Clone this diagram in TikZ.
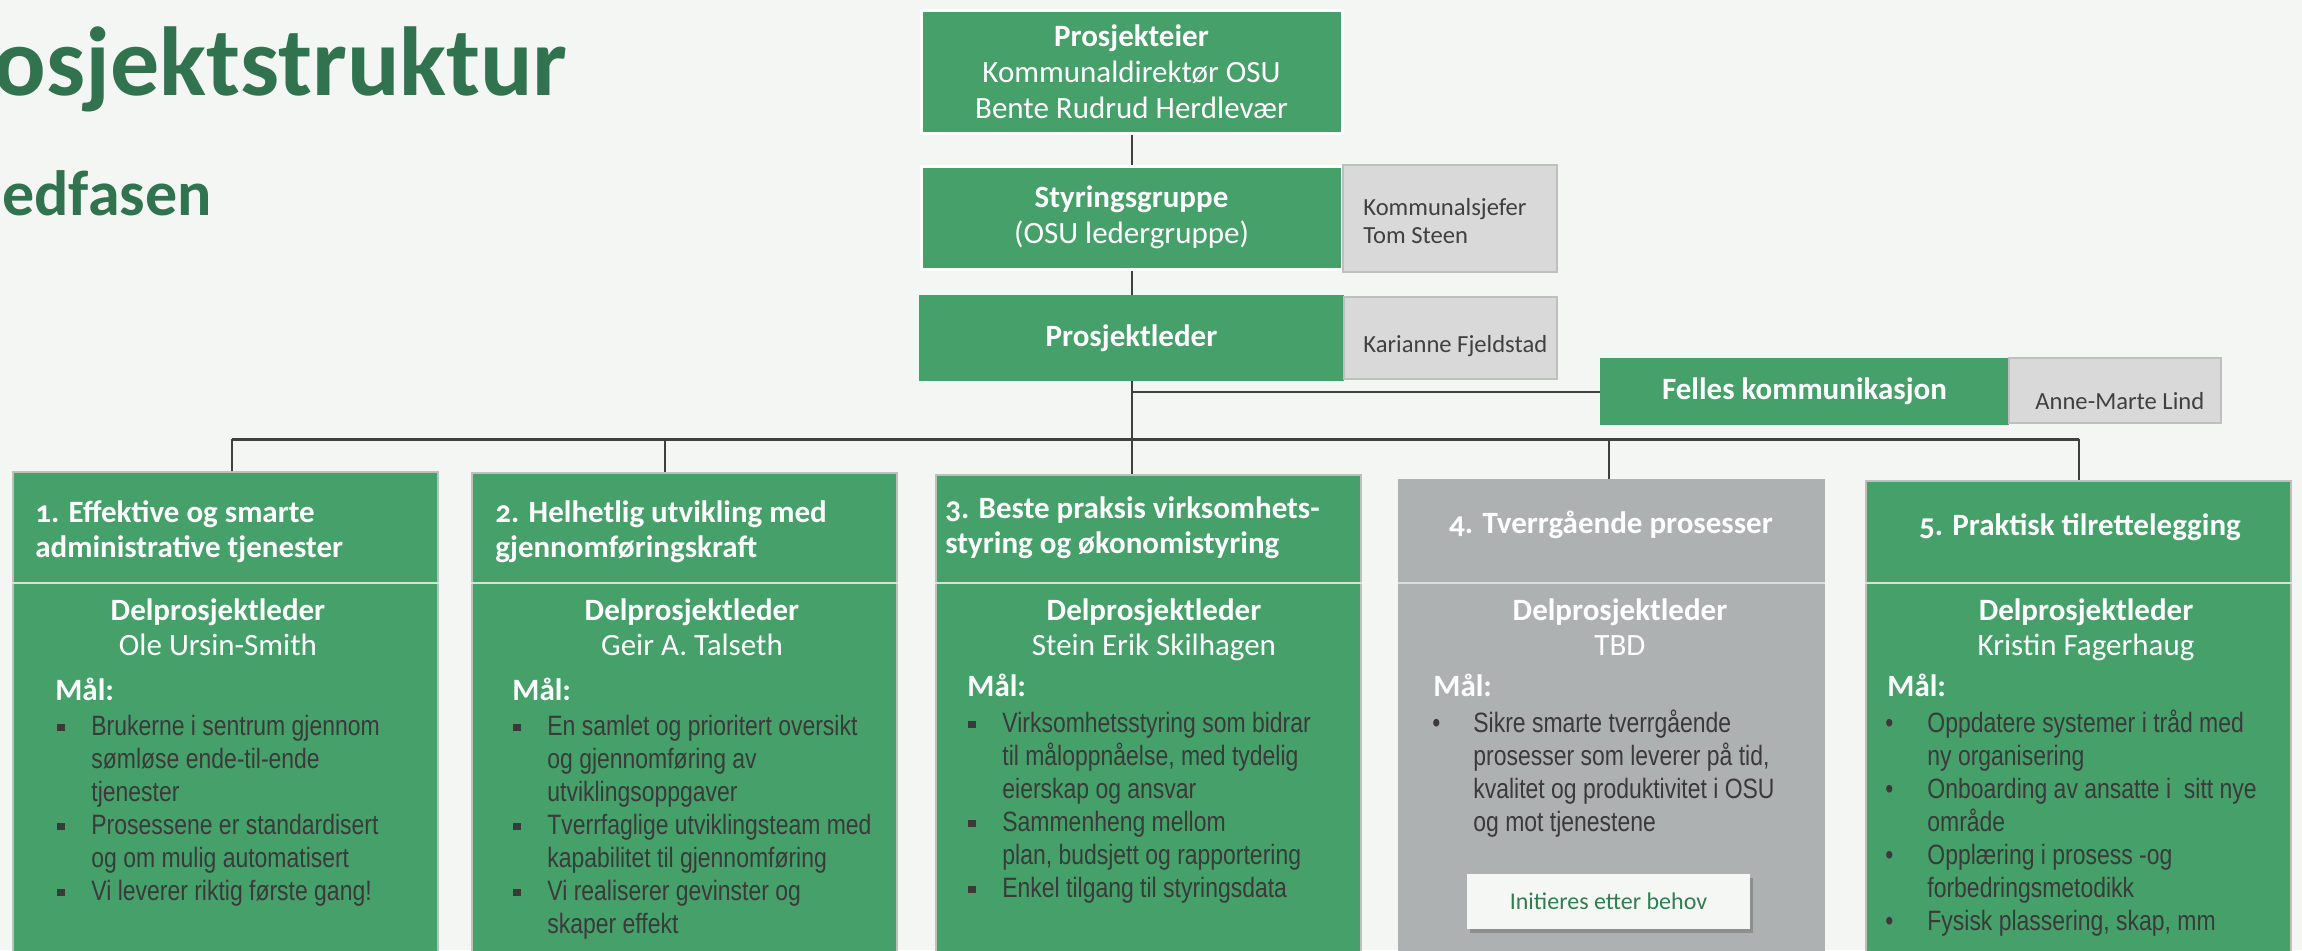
\documentclass[tikz,border=0pt]{standalone}
\usepackage{fontspec}
\setmainfont{Carlito}
\newfontfamily\hdrfont[Numbers=OldStyle]{Carlito}
\newfontfamily\bodyfont[FakeStretch=0.82]{Liberation Sans}
\usetikzlibrary{shadows}
\definecolor{bg}{RGB}{244,246,243}
\definecolor{boxgreen}{RGB}{70,160,106}
\definecolor{titlegreen}{RGB}{49,115,78}
\definecolor{graybox}{RGB}{174,177,178}
\definecolor{sidefill}{RGB}{217,217,217}
\definecolor{sideborder}{RGB}{191,191,191}
\definecolor{lowborder}{RGB}{190,192,190}
\definecolor{linec}{RGB}{64,64,64}
\definecolor{bodytext}{RGB}{58,58,58}
\definecolor{divc}{RGB}{214,226,218}
\definecolor{sidetext}{RGB}{64,64,64}
\definecolor{initgreen}{RGB}{49,125,80}
\definecolor{initfill}{RGB}{245,247,244}
\newcommand\sqb{\raisebox{1.8pt}{\rule{3.6pt}{3.6pt}}}
\newcommand\rdb{•}
\newcommand\litem[3]{\par\noindent\hangindent=#1\hangafter=1\relax\makebox[#1][l]{#2}\ignorespaces#3}
\tikzset{
  conn/.style={draw=linec, line width=1pt},
  busline/.style={draw=linec, line width=1.5pt},
  greenbox/.style={fill=boxgreen, inner sep=0, text=white, align=center,
    font={\fontsize{15.5}{18}\selectfont}},
  whiteframe/.style={draw=white, line width=1.5pt},
  sidebox/.style={fill=sidefill, draw=sideborder, line width=1pt, inner sep=0},
  sidetxt/.style={inner sep=0, anchor=base west, text=sidetext,
    font={\fontsize{12.3}{14}\selectfont}},
  lowbox/.style={draw=lowborder, line width=1.2pt, inner sep=0, anchor=north west,
    minimum width=212.5pt, minimum height=245pt},
  divider/.style={draw=divc, line width=0.8pt},
  hdrtxt/.style={inner sep=0, text=white,
    font={\fontsize{15.5}{17.5}\selectfont\hdrfont\bfseries}},
  leadtxt/.style={inner sep=0, anchor=base, text=white,
    font={\fontsize{15.5}{17.5}\selectfont}},
  maltxt/.style={inner sep=0, anchor=base west, text=white,
    font={\fontsize{15.5}{17.5}\selectfont\bfseries}},
  bodytxt/.style={inner sep=0, anchor=base west, text=bodytext,
    font={\fontsize{14}{16.5}\selectfont\bodyfont}},
}
\begin{document}
\begin{tikzpicture}[x=0.5pt,y=-0.5pt]
\path[use as bounding box] (0,0) rectangle (2302,950);
\fill[bg] (0,0) rectangle (2302,950);
\begin{scope}
\clip (0,0) rectangle (2302,950);
% titles
\node[anchor=base east, inner sep=0, text=titlegreen,
  font={\fontsize{49}{55}\selectfont\bfseries}] (title) at (568,95) {Prosjektstruktur};
\node[anchor=base west, inner sep=0, text=titlegreen,
  font={\fontsize{32}{36}\selectfont\bfseries}] (subtitle) at (2,215) {edfasen};

% top nodes
\node[greenbox, whiteframe, minimum width=210.5pt, minimum height=61.5pt] (pe) at (1131.5,71.5)
  {\textbf{Prosjekteier}\\Kommunaldirektør OSU\\Bente Rudrud Herdlevær};
\node[greenbox, whiteframe, minimum width=210.5pt, minimum height=51.5pt] (sg) at (1131.5,217.5)
  {\textbf{Styringsgruppe}\\(OSU ledergruppe)};
\node[sidebox, minimum width=107pt, minimum height=53.5pt] (ks) at (1450,218.5) {};
\node[sidetxt] (kst) at (1363,215) {\parbox[t]{90pt}{Kommunalsjefer\\Tom Steen}};
\node[greenbox, minimum width=212.5pt, minimum height=43pt] (pl) at (1131.5,338)
  {\textbf{Prosjektleder}};
\node[sidebox, minimum width=106.5pt, minimum height=41pt] (kf) at (1450.5,338) {};
\node[sidetxt] (kft) at (1363,352) {Karianne Fjeldstad};
\node[greenbox, minimum width=204.5pt, minimum height=33.5pt] (fk) at (1804.5,391.5)
  {\textbf{Felles kommunikasjon}};
\node[sidebox, minimum width=106pt, minimum height=32.5pt] (am) at (2115,390.5) {};
\node[sidetxt] (amt) at (2035,409) {Anne-Marte Lind};

% lower boxes
\node[lowbox, fill=boxgreen] (b1) at (12,471) {};
\node[lowbox, fill=boxgreen] (b2) at (471,472) {};
\node[lowbox, fill=boxgreen] (b3) at (935,474) {};
\node[lowbox, fill=graybox, draw=graybox] (b4) at (1398,479) {};
\node[lowbox, fill=boxgreen] (b5) at (1865,480) {};

% connectors
\coordinate (divy) at (0,583);
\coordinate (d1) at (232,439);
\coordinate (d2) at (665,439);
\coordinate (d4) at (1609,439);
\coordinate (d5) at (2079,439);
\draw[conn] (pe.south) -- (sg.north);
\draw[conn] (sg.south) -- (pl.north);
\draw[conn] (pl.south) -- (pl.south |- b3.north);
\draw[conn] (pl.south |- fk.west) -- (fk.west);
\draw[busline] (d1) -- (d5);
\draw[conn] (d1) -- (d1 |- b1.north);
\draw[conn] (d2) -- (d2 |- b2.north);
\draw[conn] (d4) -- (d4 |- b4.north);
\draw[conn] (d5) -- (d5 |- b5.north);

% dividers
\foreach \b in {b1,b2,b3,b4,b5} {
  \draw[divider] (\b.west |- divy) -- (\b.east |- divy);
}

% headers
\node[hdrtxt, anchor=base west] (h1) at (35,522) {\parbox[t]{200pt}{1. Effektive og smarte\\administrative tjenester}};
\node[hdrtxt, anchor=base west] (h2) at (495,522) {\parbox[t]{200pt}{2. Helhetlig utvikling med\\gjennomføringskraft}};
\node[hdrtxt, anchor=base west] (h3) at (945,518) {\parbox[t]{205pt}{3. Beste praksis virksomhets-\\styring og økonomistyring}};
\node[hdrtxt, anchor=base] (h4) at (1611,533) {4. Tverrgående prosesser};
\node[hdrtxt, anchor=base] (h5) at (2080,535) {5. Praktisk tilrettelegging};

% leaders
\node[leadtxt] (l1) at (218,620) {\parbox[t]{200pt}{\centering\textbf{Delprosjektleder}\\Ole Ursin-Smith}};
\node[leadtxt] (l2) at (692,620) {\parbox[t]{200pt}{\centering\textbf{Delprosjektleder}\\Geir A. Talseth}};
\node[leadtxt] (l3) at (1154,620) {\parbox[t]{200pt}{\centering\textbf{Delprosjektleder}\\Stein Erik Skilhagen}};
\node[leadtxt] (l4) at (1620,620) {\parbox[t]{200pt}{\centering\textbf{Delprosjektleder}\\TBD}};
\node[leadtxt] (l5) at (2086,620) {\parbox[t]{200pt}{\centering\textbf{Delprosjektleder}\\Kristin Fagerhaug}};

% Mål
\node[maltxt] (m1) at (55,700) {Mål:};
\node[maltxt] (m2) at (512,700) {Mål:};
\node[maltxt] (m3) at (967,696) {Mål:};
\node[maltxt] (m4) at (1433,696) {Mål:};
\node[maltxt] (m5) at (1887,696) {Mål:};

% lists
\node[bodytxt] (g1) at (57,735) {\parbox[t]{205pt}{%
\litem{17pt}{\sqb}{Brukerne i sentrum gjennom\\sømløse ende-til-ende\\tjenester}
\litem{17pt}{\sqb}{Prosessene er standardisert\\og om mulig automatisert}
\litem{17pt}{\sqb}{Vi leverer riktig første gang!}}};
\node[bodytxt] (g2) at (513,735) {\parbox[t]{205pt}{%
\litem{17pt}{\sqb}{En samlet og prioritert oversikt\\og gjennomføring av\\utviklingsoppgaver}
\litem{17pt}{\sqb}{Tverrfaglige utviklingsteam med\\kapabilitet til gjennomføring}
\litem{17pt}{\sqb}{Vi realiserer gevinster og\\skaper effekt}}};
\node[bodytxt] (g3) at (968,732) {\parbox[t]{205pt}{%
\litem{17pt}{\sqb}{Virksomhetsstyring som bidrar\\til måloppnåelse, med tydelig\\eierskap og ansvar}
\litem{17pt}{\sqb}{Sammenheng mellom\\plan, budsjett og rapportering}
\litem{17pt}{\sqb}{Enkel tilgang til styringsdata}}};
\node[bodytxt] (g4) at (1432,732) {\parbox[t]{205pt}{%
\litem{20.5pt}{\rdb}{Sikre smarte tverrgående\\prosesser som leverer på tid,\\kvalitet og produktivitet i OSU\\og mot tjenestene}}};
\node[bodytxt] (g5) at (1885,732) {\parbox[t]{205pt}{%
\litem{21pt}{\rdb}{Oppdatere systemer i tråd med\\ny organisering}
\litem{21pt}{\rdb}{Onboarding av ansatte i\ \ sitt nye\\område}
\litem{21pt}{\rdb}{Opplæring i prosess -og\\forbedringsmetodikk}
\litem{21pt}{\rdb}{Fysisk plassering, skap, mm}}};

% initieres
\node[fill=initfill, inner sep=0, minimum width=141.5pt, minimum height=27.5pt,
  text=initgreen, font={\fontsize{12}{14}\selectfont},
  drop shadow={shadow xshift=1.5pt, shadow yshift=-2pt, opacity=0.45, fill=black!60}]
  (init) at (1608.5,901.5) {Initieres etter behov};
\end{scope}
\end{tikzpicture}
\end{document}
